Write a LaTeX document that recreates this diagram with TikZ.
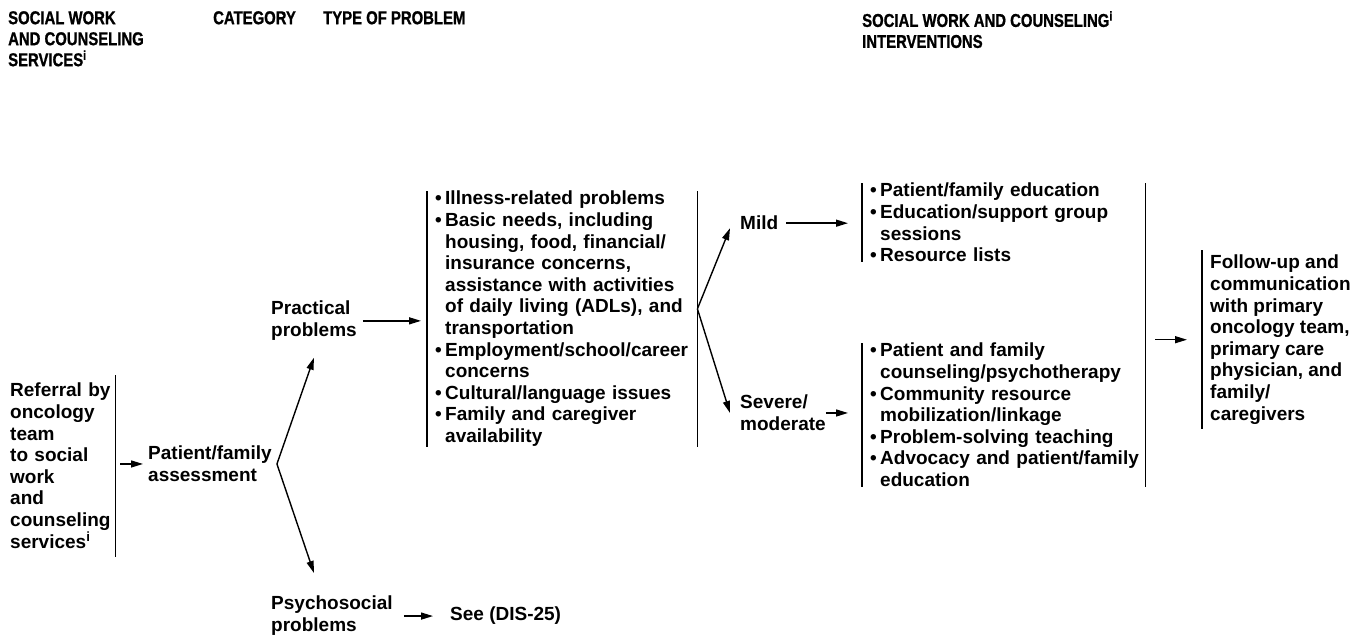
\documentclass[tikz,border=0pt]{standalone}
\usepackage{fontspec}
\setmainfont{Liberation Sans}
\newfontfamily\condsans[FakeStretch=0.8,FakeBold=1]{Liberation Sans Bold}
\usetikzlibrary{arrows.meta}

\newcommand{\bodyfont}{\fontsize{19}{21.6}\selectfont\bfseries}
\newcommand{\headfont}{\condsans\fontsize{18.6}{21}\selectfont}
\newcommand{\itm}{\makebox[10pt][l]{\textbullet}}
\newcommand{\cnt}{\hspace*{10pt}}

\begin{document}
\begin{tikzpicture}[x=1pt, y=-1pt,
    head/.style={font=\headfont, align=left, inner sep=0pt, anchor=north west},
    txt/.style={font=\bodyfont, align=left, inner sep=0pt, anchor=north west},
    listbox/.style={txt, inner xsep=8pt},
    arr/.style={-{Triangle[length=12pt,width=7pt]}, line width=1.4pt},
    bar/.style={line width=1.6pt}]
    \useasboundingbox (0,0) rectangle (1368,637);

    % Headers
    \node[head] (hservices) at (8,11) {SOCIAL WORK\\AND COUNSELING\\SERVICES\textsuperscript{i}};
    \node[head] (hcategory) at (213,11) {CATEGORY};
    \node[head] (htype) at (323,11) {TYPE OF PROBLEM};
    \node[head] (hinterv) at (862,11) {SOCIAL WORK AND COUNSELING\textsuperscript{i}\\INTERVENTIONS};

    % Referral and assessment
    \node[txt, inner xsep=3pt, inner ysep=8pt, text width=102pt] (referral) at (7,375)
        {Referral by\\oncology\\team\\to social\\work\\and\\counseling\\services\textsuperscript{i}};
    \node[txt] (assess) at (148,446) {Patient/family\\assessment};
    \coordinate (fork1) at ([xshift=5pt]assess.east);

    % Category
    \node[txt] (practical) at (271,301) {Practical\\problems};
    \node[txt] (psycho) at (271,596) {Psychosocial\\problems};
    \node[txt] (see) at (450,607) {See (DIS-25)};

    % Type of problem
    \node[listbox, text width=254pt] (types) at (427,191)
        {\itm Illness-related problems\\
         \itm Basic needs, including\\
         \cnt housing, food, financial/\\
         \cnt insurance concerns,\\
         \cnt assistance with activities\\
         \cnt of daily living (ADLs), and\\
         \cnt transportation\\
         \itm Employment/school/career\\
         \cnt concerns\\
         \itm Cultural/language issues\\
         \itm Family and caregiver\\
         \cnt availability};
    \coordinate (fork2) at ([yshift=10pt]types.east);

    % Severity
    \node[txt] (mild) at (740,216) {Mild};
    \node[txt] (severe) at (740,395) {Severe/\\moderate};

    % Interventions
    \node[listbox, text width=267pt] (mildint) at (862,183)
        {\itm Patient/family education\\
         \itm Education/support group\\
         \cnt sessions\\
         \itm Resource lists};
    \node[listbox, text width=267pt] (sevint) at (862,343)
        {\itm Patient and family\\
         \cnt counseling/psychotherapy\\
         \itm Community resource\\
         \cnt mobilization/linkage\\
         \itm Problem-solving teaching\\
         \mbox{\itm Advocacy and patient/family}\\
         \cnt education};
    \node[txt, inner xsep=8pt, inner ysep=5pt] (followup) at (1202,250)
        {Follow-up and\\communication\\with primary\\oncology team,\\primary care\\physician, and\\family/\\caregivers};

    % Bars
    \draw[bar] (referral.north east) -- (referral.south east);
    \draw[bar] (types.north west) -- (types.south west);
    \draw[bar] (types.north east) -- (types.south east);
    \draw[bar] (mildint.north west) -- (mildint.south west);
    \draw[bar] (sevint.north west) -- (sevint.south west);
    \draw[bar] (mildint.north east) -- (sevint.south east);
    \draw[bar] (followup.north west) -- (followup.south west);

    % Arrows
    \draw[arr, shorten <=5pt, shorten >=5pt] (referral.east |- assess.west) -- (assess.west);
    \draw[arr] (fork1) -- ([yshift=-17pt]practical.south);
    \draw[arr] (fork1) -- ([yshift=23pt]practical.south |- psycho.north);
    \draw[arr, shorten <=6pt, shorten >=6pt] (practical.east) -- (practical.east -| types.west);
    \draw[arr, shorten <=11pt, shorten >=17pt] (psycho.east |- see.west) -- (see.west);
    \draw[arr] (fork2) -- ([shift={(-10pt,-5pt)}]mild.west);
    \draw[arr] (fork2) -- ([xshift=-10pt]severe.west);
    \draw[arr, shorten <=8pt, shorten >=14pt] (mild.east) -- (mild.east -| mildint.west);
    \draw[arr, shorten >=14pt] (severe.east) -- (severe.east -| sevint.west);
    \draw[arr, shorten <=10pt, shorten >=15pt] (sevint.east |- followup.west) -- (followup.west);
\end{tikzpicture}
\end{document}
